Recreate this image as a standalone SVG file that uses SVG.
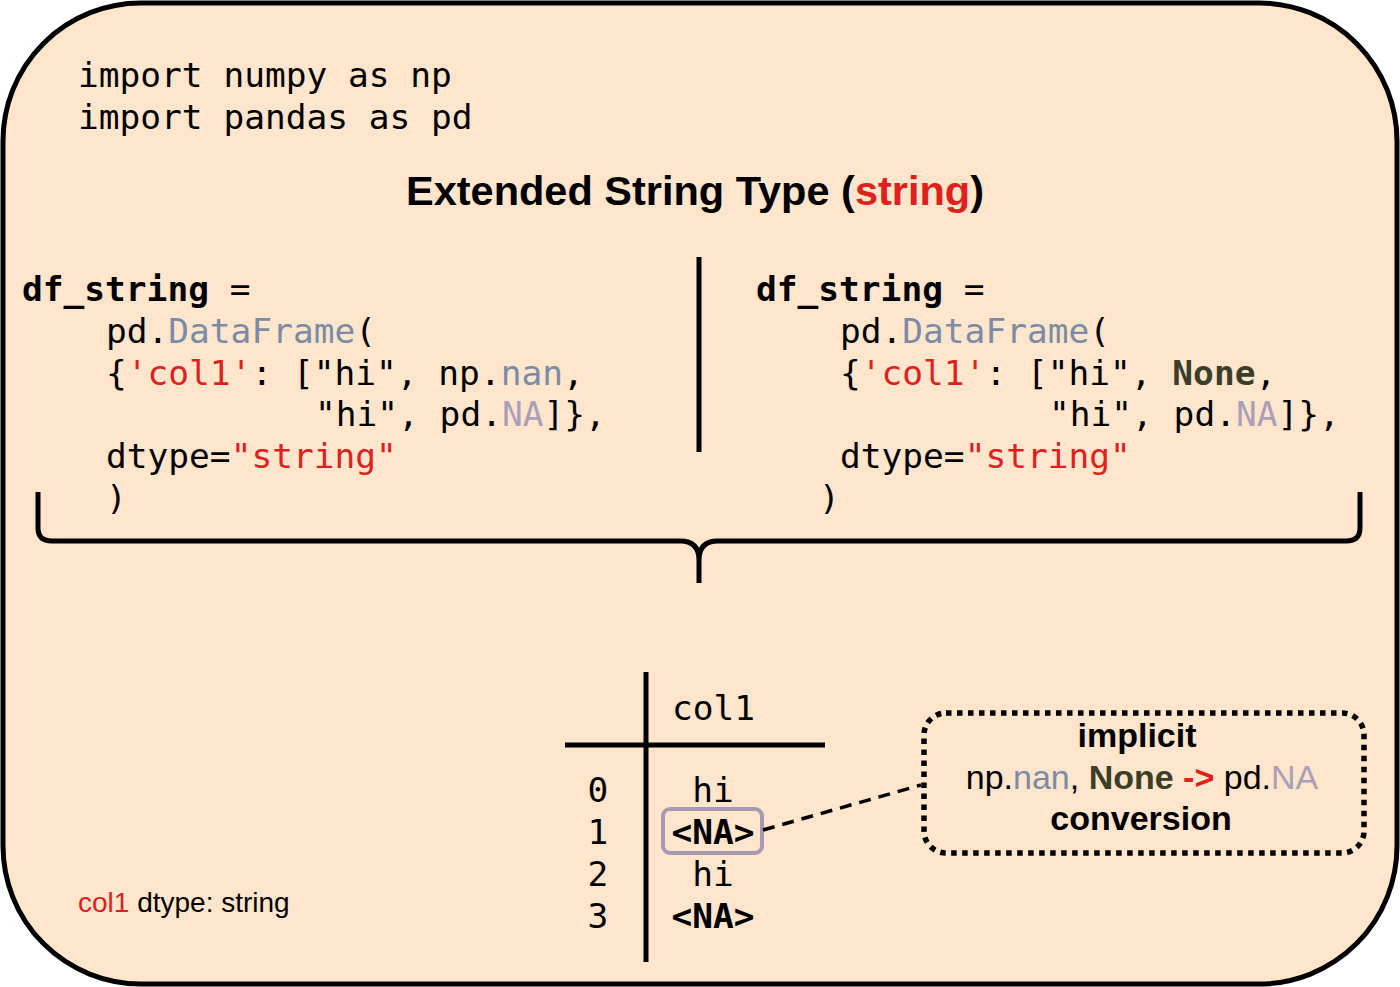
<svg xmlns="http://www.w3.org/2000/svg" width="1400" height="987" viewBox="0 0 1400 987">
<style>
.mono{font-family:"DejaVu Sans Mono",monospace;font-size:34.5px;fill:#000}
.b{font-weight:bold}
.sans{font-family:"Liberation Sans",Arial,sans-serif;fill:#000}
.red{fill:#e0201c}
.blu{fill:#7b8ba5}
.na{fill:#a9a0b8}
.non{fill:#3a3d28;font-weight:bold}
.ln{stroke:#000;stroke-width:5;fill:none}
</style>
<rect id="frame" x="3" y="3" width="1394" height="981" rx="138" ry="138" fill="#fee5cc" stroke="#000" stroke-width="5"/>
<g id="imports">
<text class="mono" x="78" y="87">import numpy as np</text>
<text class="mono" x="78" y="129">import pandas as pd</text>
</g>
<g id="title">
<text class="sans b" x="695" y="205" font-size="41.5" text-anchor="middle">Extended String Type (<tspan class="red">string</tspan>)</text>
</g>
<g id="code-left">
<text class="mono b" x="22" y="301">df_string <tspan font-weight="normal">=</tspan></text>
<text class="mono" x="106" y="343">pd.<tspan class="blu">DataFrame</tspan>(</text>
<text class="mono" x="106" y="385">{<tspan class="red">'col1'</tspan>: ["hi", np.<tspan class="blu">nan</tspan>,</text>
<text class="mono" x="315" y="426">"hi", pd.<tspan class="na">NA</tspan>]},</text>
<text class="mono" x="106" y="468">dtype=<tspan class="red">"string"</tspan></text>
<text class="mono" x="106" y="510">)</text>
</g>
<g id="divider">
<line class="ln" x1="699" y1="257" x2="699" y2="452" stroke-width="6"/>
</g>
<g id="code-right">
<text class="mono b" x="756" y="301">df_string <tspan font-weight="normal">=</tspan></text>
<text class="mono" x="840" y="343">pd.<tspan class="blu">DataFrame</tspan>(</text>
<text class="mono" x="840" y="385">{<tspan class="red">'col1'</tspan>: ["hi", <tspan class="non">None</tspan>,</text>
<text class="mono" x="1049" y="426">"hi", pd.<tspan class="na">NA</tspan>]},</text>
<text class="mono" x="840" y="468">dtype=<tspan class="red">"string"</tspan></text>
<text class="mono" x="819" y="510">)</text>
</g>
<g id="brace">
<path class="ln" stroke-width="6" d="M38,492 V528 Q38,541 52,541 H680 Q699,541 699,560 V583 M699,560 Q699,541 718,541 H1346 Q1360,541 1360,528 V492"/>
</g>
<g id="table">
<line class="ln" x1="646" y1="672" x2="646" y2="962" stroke-width="4"/>
<line class="ln" x1="565" y1="745" x2="825" y2="745" stroke-width="4"/>
<text class="mono" x="672" y="720">col1</text>
<text class="mono" x="598" y="802" text-anchor="middle">0</text>
<text class="mono" x="598" y="844" text-anchor="middle">1</text>
<text class="mono" x="598" y="886" text-anchor="middle">2</text>
<text class="mono" x="598" y="928" text-anchor="middle">3</text>
<text class="mono" x="713" y="802" text-anchor="middle">hi</text>
<text class="mono b" x="713" y="844" text-anchor="middle">&lt;NA&gt;</text>
<text class="mono" x="713" y="886" text-anchor="middle">hi</text>
<text class="mono b" x="713" y="928" text-anchor="middle">&lt;NA&gt;</text>
<rect x="663" y="809" width="99" height="44" rx="7" fill="none" stroke="#a69ab2" stroke-width="4"/>
</g>
<g id="connectors">
<line x1="763" y1="830" x2="921" y2="785" stroke="#000" stroke-width="3.5" stroke-dasharray="12 8"/>
</g>
<g id="note">
<rect x="924" y="713" width="440" height="140" rx="22" fill="none" stroke="#000" stroke-width="5.5" stroke-dasharray="5.5 5.5"/>
<text class="sans b" x="1137" y="747" font-size="34" text-anchor="middle">implicit</text>
<text class="sans" x="1142" y="789" font-size="34" text-anchor="middle">np.<tspan class="blu">nan</tspan>, <tspan class="non">None</tspan> <tspan class="red b">-&gt;</tspan> pd.<tspan class="na">NA</tspan></text>
<text class="sans b" x="1141" y="830" font-size="34" text-anchor="middle">conversion</text>
</g>
<g id="dtype-label">
<text class="sans" x="78" y="912" font-size="28"><tspan class="red">col1</tspan> dtype: string</text>
</g>
</svg>
